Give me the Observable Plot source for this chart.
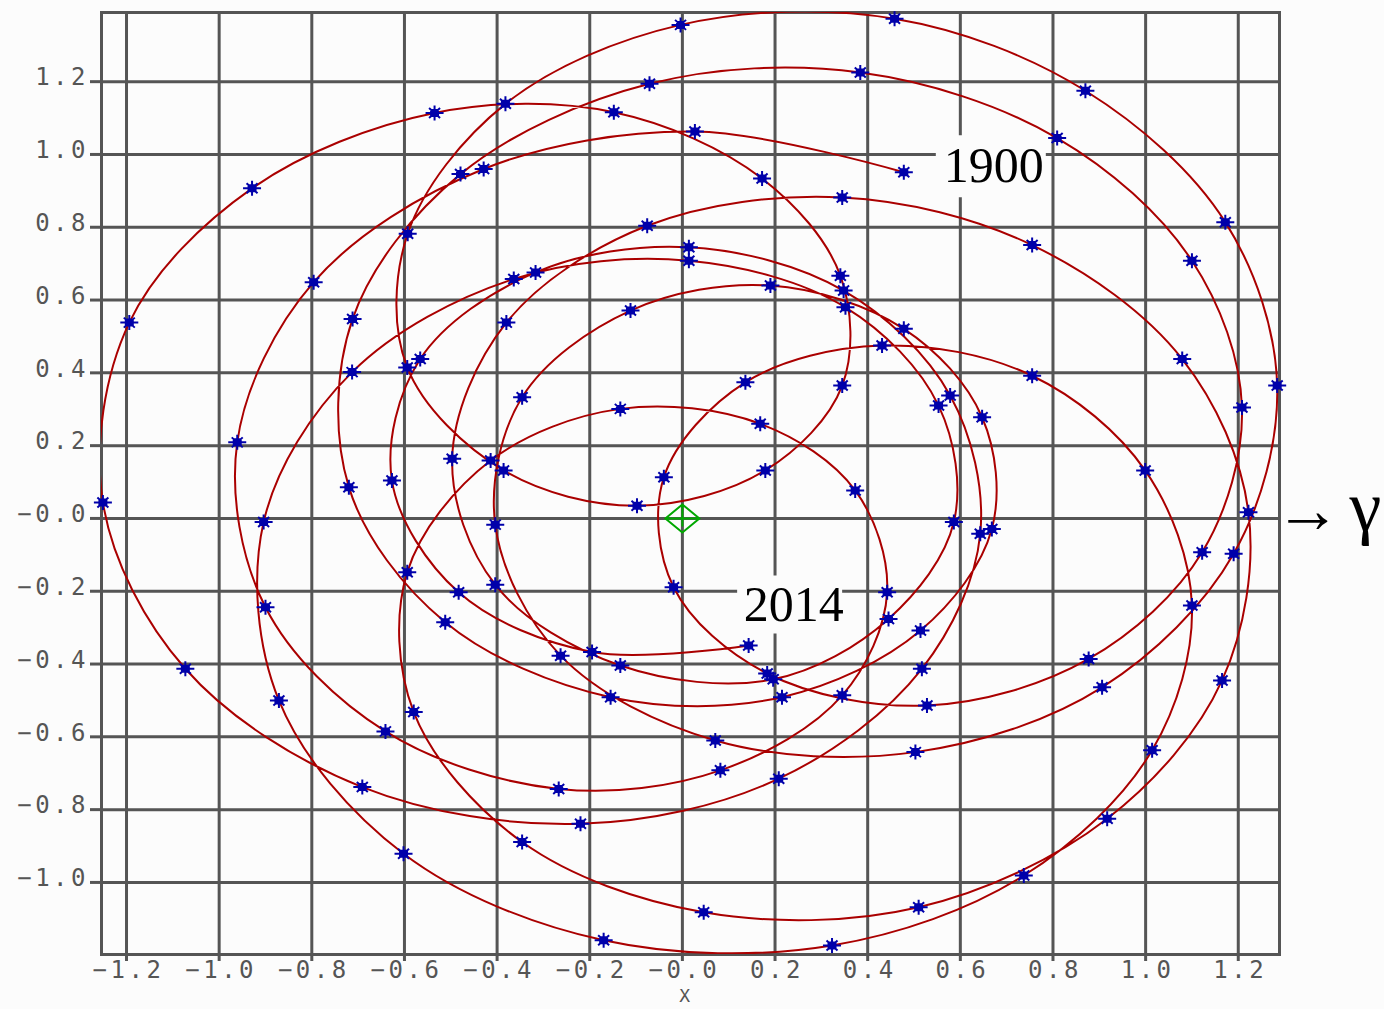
<!DOCTYPE html>
<html>
<head>
<meta charset="utf-8">
<title>Sun around the solar-system barycentre, 1900–2014</title>
<script src="https://cdn.jsdelivr.net/npm/d3@7"></script>
<script src="https://cdn.jsdelivr.net/npm/@observablehq/plot@0.6"></script>
<style>
  html, body { margin: 0; padding: 0; background: #fcfcfc; }
  #chart svg { display: block; }
  /* wide, evenly spaced axis lettering */
  g[font-family^="DejaVu Sans Mono"] text { letter-spacing: 3.5px; }
</style>
</head>
<body>
<div id="chart"></div>
<script>
// Yearly positions (1 January) of the Sun's centre relative to the barycentre,
// in the ecliptic plane; x points to the vernal equinox (γ). Units: 10^6 km.
const startYear = 1900;
const endYear = 2014;

const sunX = [
   0.478,  0.027, -0.429, -0.796, -0.961, -0.900, -0.641, -0.267,  0.082,  0.345,
   0.442,  0.373,  0.168, -0.134, -0.414, -0.594, -0.580, -0.346,  0.046,  0.510,
   0.917,  1.165,  1.222,  1.079,  0.755,  0.345, -0.076, -0.380, -0.497, -0.404,
  -0.134,  0.196,  0.445,  0.586,  0.553,  0.352,  0.014, -0.364, -0.713, -0.904,
  -0.871, -0.602, -0.170,  0.323,  0.737,  1.014,  1.100,  0.999,  0.755,  0.431,
   0.136, -0.040, -0.019,  0.183,  0.528,  0.877,  1.122,  1.208,  1.100,  0.809,
   0.384, -0.071, -0.479, -0.712, -0.720, -0.512, -0.155,  0.215,  0.514,  0.668,
   0.647,  0.478,  0.190, -0.112, -0.346, -0.404, -0.263,  0.071,  0.503,  0.906,
   1.190,  1.284,  1.172,  0.870,  0.458, -0.004, -0.382, -0.593, -0.594, -0.386,
  -0.098,  0.179,  0.345,  0.341,  0.172, -0.148, -0.535, -0.929, -1.194, -1.251,
  -1.073, -0.691, -0.220,  0.208,  0.517,  0.643,  0.578,  0.348,  0.014, -0.317,
  -0.566, -0.627, -0.483, -0.195,  0.143
];

const sunY = [
   0.951,  1.063,  0.960,  0.649,  0.209, -0.244, -0.585, -0.743, -0.692, -0.486,
  -0.203,  0.077,  0.260,  0.301,  0.159, -0.148, -0.532, -0.889, -1.082, -1.068,
  -0.825, -0.445,  0.017,  0.438,  0.751,  0.882,  0.804,  0.538,  0.164, -0.182,
  -0.404, -0.442, -0.276, -0.010,  0.310,  0.580,  0.708,  0.658,  0.402, -0.010,
  -0.500, -0.921, -1.159, -1.173, -0.981, -0.637, -0.239,  0.132,  0.392,  0.475,
   0.374,  0.113, -0.189, -0.426, -0.514, -0.386, -0.093,  0.305,  0.708,  1.045,
   1.225,  1.194,  0.946,  0.548,  0.086, -0.285, -0.491, -0.491, -0.308, -0.029,
   0.278,  0.521,  0.640,  0.571,  0.333, -0.017, -0.377, -0.610, -0.642, -0.464,
  -0.097,  0.365,  0.814,  1.175,  1.373,  1.356,  1.139,  0.782,  0.415,  0.132,
   0.035,  0.132,  0.365,  0.667,  0.934,  1.116,  1.114,  0.907,  0.538,  0.044,
  -0.413, -0.738, -0.839, -0.715, -0.413, -0.042,  0.338,  0.626,  0.745,  0.676,
   0.438,  0.104, -0.203, -0.367, -0.349
];

const xTicks = [-1.2, -1.0, -0.8, -0.6, -0.4, -0.2, 0, 0.2, 0.4, 0.6, 0.8, 1.0, 1.2];
const xTickLabels = ["−1.2", "−1.0", "−0.8", "−0.6", "−0.4", "−0.2", "−0.0",
                     "0.2", "0.4", "0.6", "0.8", "1.0", "1.2"];
const yTicks = [-1.0, -0.8, -0.6, -0.4, -0.2, 0, 0.2, 0.4, 0.6, 0.8, 1.0, 1.2];
const yTickLabels = ["−1.0", "−0.8", "−0.6", "−0.4", "−0.2", "−0.0",
                     "0.2", "0.4", "0.6", "0.8", "1.0", "1.2"];

const xDomain = [-1.254, 1.289];
const yDomain = [-1.198, 1.390];
const barycenter = [{x: 0, y: 0}];
const axisName = "X";
const directionArrow = "→";
const directionLabel = "γ";

// Styling
const bg = "#fcfcfc";
const grey = "#555555";
const red = "#aa0000";
const blue = "#0000aa";
const green = "#00a800";
const mono = "DejaVu Sans Mono, monospace";
const serif = "Liberation Serif, Times New Roman, serif";

const path = sunX.map((x, i) => ({x, y: sunY[i]}));
const first = path[0];
const last = path[path.length - 1];
const xLabel = new Map(xTicks.map((t, i) => [t, xTickLabels[i]]));
const yLabel = new Map(yTicks.map((t, i) => [t, yTickLabels[i]]));

// Eight-armed star for the yearly positions
const yearMark = {
  draw(ctx) {
    ctx.moveTo(-9, 0); ctx.lineTo(9, 0);
    ctx.moveTo(0, -7.5); ctx.lineTo(0, 7.5);
    ctx.moveTo(-5.5, -5); ctx.lineTo(5.5, 5);
    ctx.moveTo(-5.5, 5); ctx.lineTo(5.5, -5);
    ctx.moveTo(-3.5, -3); ctx.lineTo(3.5, -3); ctx.lineTo(3.5, 3); ctx.lineTo(-3.5, 3); ctx.closePath();
  }
};

// Diamond with cross for the barycentre
const originMark = {
  draw(ctx) {
    ctx.moveTo(-17, 0); ctx.lineTo(0, -14); ctx.lineTo(17, 0); ctx.lineTo(0, 14); ctx.closePath();
    ctx.moveTo(-17, 0); ctx.lineTo(17, 0);
    ctx.moveTo(0, -14); ctx.lineTo(0, 8);
  }
};

// Plain background panel behind the year labels
const panel = (w, h) => ({ draw(ctx) { ctx.rect(-w / 2, -h / 2, w, h); } });

const chart = Plot.plot({
  width: 1384,
  height: 1009,
  marginLeft: 101,
  marginRight: 105,
  marginTop: 12,
  marginBottom: 55,
  style: {background: bg, color: grey},
  x: {domain: xDomain, label: null},
  y: {domain: yDomain, label: null},
  marks: [
    Plot.gridX(xTicks, {stroke: grey, strokeOpacity: 1, strokeWidth: 3}),
    Plot.gridY(yTicks, {stroke: grey, strokeOpacity: 1, strokeWidth: 3}),
    Plot.frame({stroke: grey, strokeWidth: 3}),
    Plot.axisX({ticks: xTicks, tickSize: 7, tickFormat: () => "", strokeWidth: 3, label: null}),
    Plot.axisY({ticks: yTicks, tickSize: 11, tickFormat: () => "", strokeWidth: 3, label: null}),
    Plot.text(xTicks, {
      x: d => d, frameAnchor: "bottom", text: d => xLabel.get(d),
      dy: 16, dx: 2, lineAnchor: "middle", fontFamily: mono, fontSize: 24, fill: grey
    }),
    Plot.text(yTicks, {
      y: d => d, frameAnchor: "left", text: d => yLabel.get(d),
      textAnchor: "end", dx: -12.5, dy: -4, lineAnchor: "middle",
      fontFamily: mono, fontSize: 24, fill: grey
    }),
    Plot.text([axisName], {
      frameAnchor: "bottom", text: d => d, dy: 42, dx: -4, lineAnchor: "middle",
      fontFamily: mono, fontSize: 18, fill: grey
    }),
    Plot.dot([first], {x: "x", y: "y", symbol: panel(110, 62), r: 10, fill: bg, stroke: "none", dx: 87, dy: -6}),
    Plot.dot([last], {x: "x", y: "y", symbol: panel(105, 58), r: 10, fill: bg, stroke: "none", dx: 41, dy: -41}),
    Plot.line(path, {x: "x", y: "y", curve: "catmull-rom", stroke: red, strokeWidth: 2, clip: true}),
    Plot.dot(path, {x: "x", y: "y", symbol: yearMark, r: 5, fill: blue, stroke: blue, strokeWidth: 2}),
    Plot.dot(barycenter, {x: "x", y: "y", symbol: originMark, r: 10, fill: "none", stroke: green, strokeWidth: 2}),
    Plot.text([first], {
      x: "x", y: "y", text: () => String(startYear), dx: 90, dy: -6,
      fontFamily: serif, fontSize: 50, fill: "#000", lineAnchor: "middle"
    }),
    Plot.text([last], {
      x: "x", y: "y", text: () => String(endYear), dx: 45, dy: -40,
      fontFamily: serif, fontSize: 50, fill: "#000", lineAnchor: "middle"
    }),
    Plot.text([0], {
      y: d => d, frameAnchor: "right", text: () => directionArrow, textAnchor: "start",
      dx: -4.5, dy: -8, fontFamily: serif, fontSize: 66, fill: "#000", lineAnchor: "middle"
    }),
    Plot.text([0], {
      y: d => d, frameAnchor: "right", text: () => directionLabel, textAnchor: "start",
      dx: 70, dy: -10, fontFamily: serif, fontSize: 72, fill: "#000", lineAnchor: "middle"
    })
  ]
});

document.getElementById("chart").appendChild(chart);
</script>
</body>
</html>
